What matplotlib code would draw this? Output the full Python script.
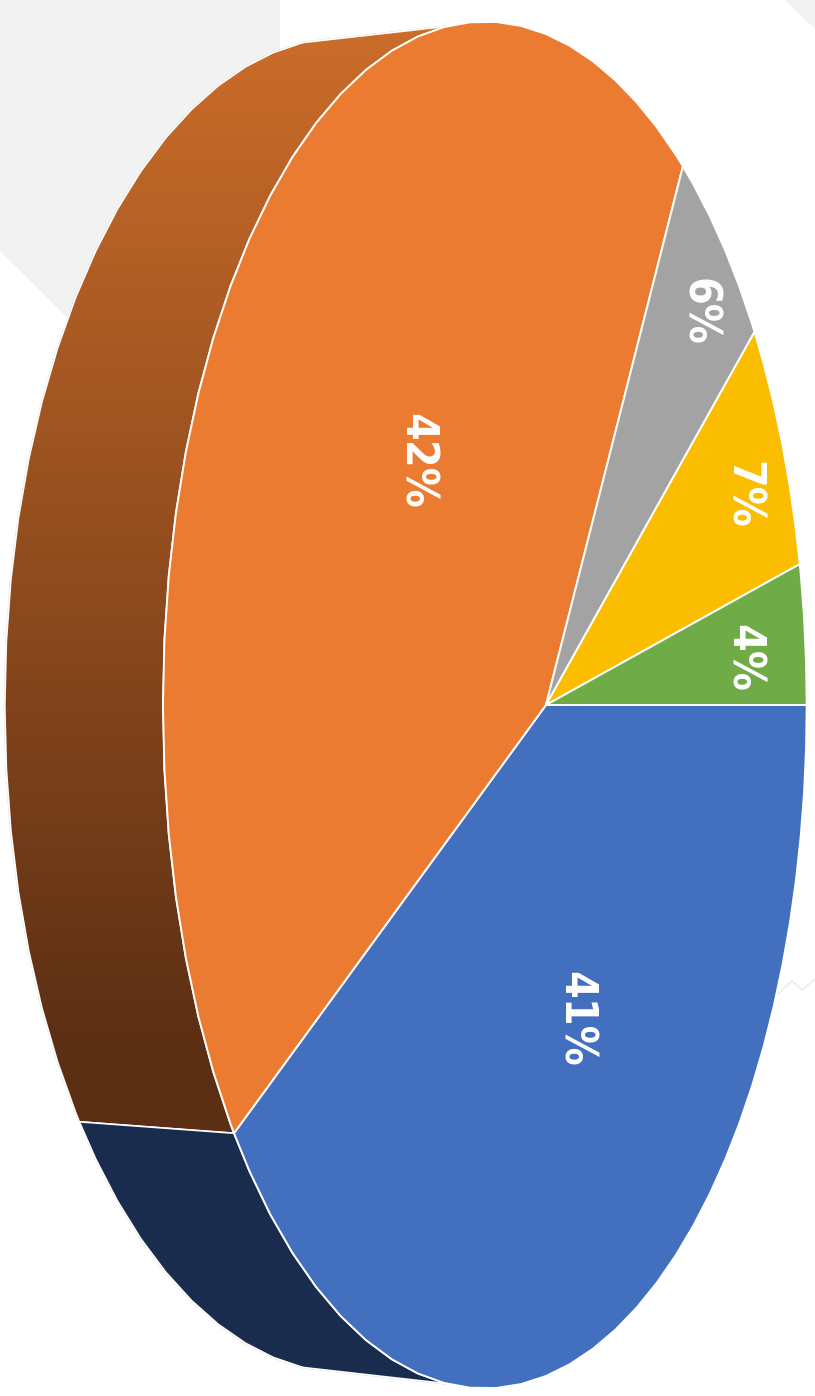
import numpy as np
import matplotlib
matplotlib.use("Agg")
import matplotlib.pyplot as plt
from matplotlib.patches import Polygon

# data (clockwise on screen from the 3 o'clock position)
labels = ["41%", "42%", "6%", "7%", "4%"]
values = [41, 42, 6, 7, 4]
top_colors = ["#4270BF", "#EA7B30", "#A3A3A3", "#FABD00", "#6FAB47"]

W, H = 815, 1396
CX, CY = 546, 705
A, C, D = 414.0, 0.19, 671.0      # perspective of the top face
P, R = -128.0, 0.023              # perspective of the extrusion
TANGENT = 107.5                   # silhouette angle (deg)
STEP = 4.5                        # facet size of the rim (deg)
label_xy = [(575, 1019), (416, 461), (699, 312), (742, 495), (743, 658)]


def project(theta_deg, rho=1.0, w=0.0):
    t = np.radians(np.asarray(theta_deg, float))
    u, v = rho * np.cos(t), rho * np.sin(t)
    den = 1 + C * u + R * w
    return np.column_stack([(A * u + CX + P * w) / den, CY + D * v / den])


def arc(a, b):
    inner = np.arange(np.ceil(a / STEP) * STEP, b, STEP)
    return np.r_[a, inner[inner > a], b]


fig = plt.figure(figsize=(W / 100, H / 100), dpi=100, facecolor="white")
ax = fig.add_axes([0, 0, 1, 1])
ax.set_xlim(0, W)
ax.set_ylim(H, 0)
ax.axis("off")

# pale background shapes behind the chart
ax.add_patch(Polygon([(0, 0), (280, 0), (280, 60), (110, 360), (0, 251)],
                     fc="#F2F2F2", ec="none", zorder=0))
ax.add_patch(Polygon([(785, 0), (815, 0), (815, 29)], fc="#F2F2F2", ec="none", zorder=0))
ax.plot([778, 792, 802, 815], [994, 981, 990, 979], color="#E6E6E6", lw=0.8, zorder=0)

angles = np.cumsum([0] + values) / sum(values) * 360.0
split = angles[1]

# side wall, from the lower tangent round to the upper tangent
orange_a = arc(split, 360 - TANGENT)
wall_o = np.vstack([project(orange_a), project(orange_a[::-1], w=1)])
blue_a = arc(TANGENT, split)
wall_b = np.vstack([project(blue_a), project(blue_a[::-1], w=1)])

full_a = arc(TANGENT, 360 - TANGENT)
outline = np.vstack([project(full_a, w=1), project(full_a[::-1])])
ax.add_patch(Polygon(outline, closed=True, fc="none", ec="#D0D0D0", lw=1.5, zorder=1))

# vertical gradient on the orange wall
c0 = np.array(matplotlib.colors.to_rgb("#CC6D2A"))
c1 = np.array(matplotlib.colors.to_rgb("#5C2F14"))
yy = np.linspace(0, H, 400)
f = np.clip((yy - 25) / (1040 - 25), 0, 1)[:, None, None]
img = (c0[None, None, :] * (1 - f) + c1[None, None, :] * f)
clip = Polygon(wall_o, closed=True, transform=ax.transData, fc="none", ec="none")
ax.add_patch(clip)
im = ax.imshow(img, extent=(0, W, H, 0), aspect="auto", zorder=2, interpolation="bilinear")
im.set_clip_path(clip)
ax.set_xlim(0, W)
ax.set_ylim(H, 0)
ax.add_patch(Polygon(wall_o, closed=True, fc="none", ec="white", lw=1.2, zorder=3))
ax.add_patch(Polygon(wall_b, closed=True, fc="#1A2C4E", ec="white", lw=1.2, zorder=3))

# top face
for i, col in enumerate(top_colors):
    pts = np.vstack([[CX, CY], project(arc(angles[i], angles[i + 1]))])
    ax.add_patch(Polygon(pts, closed=True, fc=col, ec="white", lw=1.4,
                         joinstyle="round", zorder=4))

for lab, (x, y) in zip(labels, label_xy):
    ax.text(x, y, lab, color="white", rotation=270, ha="center", va="center",
            rotation_mode="anchor", fontsize=32, fontweight="bold",
            family="DejaVu Sans", stretch="condensed", zorder=5)

fig.savefig("out.png", dpi=100, facecolor="white")
